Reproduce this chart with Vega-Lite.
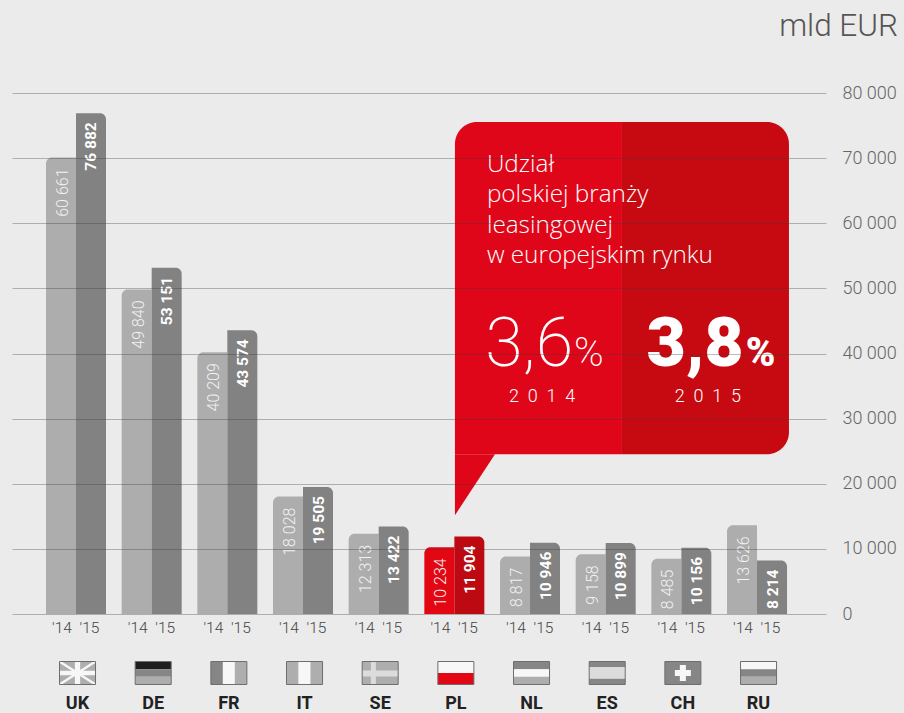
{
"$schema":"https://vega.github.io/schema/vega-lite/v6.json",
"width":814,"height":521,
"autosize":{"type":"none"},
"padding":{"left":12,"top":93,"right":78,"bottom":99},
"background":"#ebebeb",
"view":{"stroke":null},
"config":{"font":"Roboto","axis":{"labelFont":"Roboto"}},
"datasets":{
"bars":[
{"country":"UK","year":"'14","drawn":70100,"label":"60 661"},
{"country":"UK","year":"'15","drawn":76882,"label":"76 882"},
{"country":"DE","year":"'14","drawn":49840,"label":"49 840"},
{"country":"DE","year":"'15","drawn":53151,"label":"53 151"},
{"country":"FR","year":"'14","drawn":40209,"label":"40 209"},
{"country":"FR","year":"'15","drawn":43574,"label":"43 574"},
{"country":"IT","year":"'14","drawn":18028,"label":"18 028"},
{"country":"IT","year":"'15","drawn":19505,"label":"19 505"},
{"country":"SE","year":"'14","drawn":12313,"label":"12 313"},
{"country":"SE","year":"'15","drawn":13422,"label":"13 422"},
{"country":"PL","year":"'14","drawn":10234,"label":"10 234"},
{"country":"PL","year":"'15","drawn":11904,"label":"11 904"},
{"country":"NL","year":"'14","drawn":8817,"label":"8 817"},
{"country":"NL","year":"'15","drawn":10946,"label":"10 946"},
{"country":"ES","year":"'14","drawn":9158,"label":"9 158"},
{"country":"ES","year":"'15","drawn":10899,"label":"10 899"},
{"country":"CH","year":"'14","drawn":8485,"label":"8 485"},
{"country":"CH","year":"'15","drawn":10156,"label":"10 156"},
{"country":"RU","year":"'14","drawn":13626,"label":"13 626"},
{"country":"RU","year":"'15","drawn":8214,"label":"8 214"}
],
"flags":[
{"flag":"UK","tone":"light","x0":-0.218,"x1":0.258,"y0":-7294,"y1":-10825},
{"flag":"DE","tone":"dark","x0":0.782,"x1":1.258,"y0":-7294,"y1":-8471},
{"flag":"DE","tone":"mid","x0":0.782,"x1":1.258,"y0":-8471,"y1":-9648},
{"flag":"DE","tone":"light","x0":0.782,"x1":1.258,"y0":-9648,"y1":-10825},
{"flag":"FR","tone":"mid","x0":1.782,"x1":1.941,"y0":-7294,"y1":-10825},
{"flag":"FR","tone":"white","x0":1.941,"x1":2.099,"y0":-7294,"y1":-10825},
{"flag":"FR","tone":"light","x0":2.099,"x1":2.258,"y0":-7294,"y1":-10825},
{"flag":"IT","tone":"light","x0":2.782,"x1":2.941,"y0":-7294,"y1":-10825},
{"flag":"IT","tone":"white","x0":2.941,"x1":3.099,"y0":-7294,"y1":-10825},
{"flag":"IT","tone":"light","x0":3.099,"x1":3.258,"y0":-7294,"y1":-10825},
{"flag":"SE","tone":"light","x0":3.782,"x1":4.258,"y0":-7294,"y1":-10825},
{"flag":"SE","tone":"pale","x0":3.897,"x1":3.963,"y0":-7294,"y1":-10825},
{"flag":"SE","tone":"pale","x0":3.782,"x1":4.258,"y0":-8676,"y1":-9598},
{"flag":"PL","tone":"white","x0":4.782,"x1":5.258,"y0":-7294,"y1":-9060},
{"flag":"PL","tone":"red","x0":4.782,"x1":5.258,"y0":-9060,"y1":-10825},
{"flag":"NL","tone":"mid","x0":5.782,"x1":6.258,"y0":-7294,"y1":-8471},
{"flag":"NL","tone":"white","x0":5.782,"x1":6.258,"y0":-8471,"y1":-9648},
{"flag":"NL","tone":"light","x0":5.782,"x1":6.258,"y0":-9648,"y1":-10825},
{"flag":"ES","tone":"mid","x0":6.782,"x1":7.258,"y0":-7294,"y1":-8177},
{"flag":"ES","tone":"pale","x0":6.782,"x1":7.258,"y0":-8177,"y1":-9942},
{"flag":"ES","tone":"mid","x0":6.782,"x1":7.258,"y0":-9942,"y1":-10825},
{"flag":"CH","tone":"mid","x0":7.782,"x1":8.258,"y0":-7294,"y1":-10825},
{"flag":"CH","tone":"white","x0":7.98,"x1":8.06,"y0":-7831,"y1":-10289},
{"flag":"CH","tone":"white","x0":7.914,"x1":8.126,"y0":-8599,"y1":-9521},
{"flag":"RU","tone":"white","x0":8.782,"x1":9.258,"y0":-7294,"y1":-8471},
{"flag":"RU","tone":"mid","x0":8.782,"x1":9.258,"y0":-8471,"y1":-9648},
{"flag":"RU","tone":"light","x0":8.782,"x1":9.258,"y0":-9648,"y1":-10825}
],
"frames":[
{"flag":"UK","x0":-0.218,"x1":0.258},{"flag":"DE","x0":0.782,"x1":1.258},{"flag":"FR","x0":1.782,"x1":2.258},{"flag":"IT","x0":2.782,"x1":3.258},{"flag":"SE","x0":3.782,"x1":4.258},{"flag":"NL","x0":5.782,"x1":6.258},{"flag":"ES","x0":6.782,"x1":7.258},{"flag":"CH","x0":7.782,"x1":8.258},{"flag":"RU","x0":8.782,"x1":9.258},{"flag":"PL","x0":4.782,"x1":5.258}
]
},
"resolve":{"scale":{"x":"independent"}},
"layer":[
{
"layer":[
{"data":{"name":"bars"},"transform":[{"filter":"datum.year==\"'14\""}],
 "mark":{"type":"bar","cornerRadiusTopLeft":6},
 "encoding":{
  "x":{"field":"country","type":"nominal","sort":null,
   "scale":{"domain":["UK","DE","FR","IT","SE","PL","NL","ES","CH","RU"],"paddingInner":0.2071,"paddingOuter":0.4822,"align":0.4659},
   "axis":{"title":null,"domain":false,"ticks":false,"labelAngle":0,"labelPadding":80,"labelOffset":1.5,"labelFontSize":18,"labelFontWeight":"bold","labelColor":"#222222","zindex":1}},
  "xOffset":{"field":"year","type":"nominal","scale":{"domain":["'14","'15"],"paddingInner":0,"paddingOuter":0}},
  "y":{"field":"drawn","type":"quantitative","stack":null,
   "scale":{"domain":[0,80000],"nice":false},
   "axis":{"title":null,"orient":"right","values":[0,10000,20000,30000,40000,50000,60000,70000,80000],"domain":false,"ticks":false,"grid":true,"gridColor":"#3c3c3c","gridOpacity":0.35,"gridWidth":1,"labelPadding":16,"labelFontSize":18,"labelFontWeight":300,"labelColor":"#666666","labelExpr":"replace(format(datum.value,','),',',' ')","zindex":1}},
  "color":{"condition":{"test":"datum.country=='PL'","value":"#e30613"},"value":"#adadad"}
 }},
{"data":{"name":"bars"},"transform":[{"filter":"datum.year==\"'15\""}],
 "mark":{"type":"bar","cornerRadiusTopRight":6},
 "encoding":{
  "x":{"field":"country","type":"nominal","sort":null},
  "xOffset":{"field":"year","type":"nominal"},
  "y":{"field":"drawn","type":"quantitative","stack":null},
  "color":{"condition":{"test":"datum.country=='PL'","value":"#bd0a12"},"value":"#828282"}
 }},
{"data":{"name":"bars"},"transform":[{"filter":"datum.year==\"'14\""}],
 "mark":{"type":"text","angle":270,"align":"right","baseline":"middle","dx":-11,"dy":2,"fontSize":16,"fontWeight":300,"color":"#f2f2f2"},
 "encoding":{
  "x":{"field":"country","type":"nominal","sort":null},
  "xOffset":{"field":"year","type":"nominal"},
  "y":{"field":"drawn","type":"quantitative","stack":null},
  "text":{"field":"label","type":"nominal"}
 }},
{"data":{"name":"bars"},"transform":[{"filter":"datum.year==\"'15\""}],
 "mark":{"type":"text","angle":270,"align":"right","baseline":"middle","dx":-9,"dy":0.5,"fontSize":15.5,"fontWeight":"bold","color":"#ffffff"},
 "encoding":{
  "x":{"field":"country","type":"nominal","sort":null},
  "xOffset":{"field":"year","type":"nominal"},
  "y":{"field":"drawn","type":"quantitative","stack":null},
  "text":{"field":"label","type":"nominal"}
 }},
{"data":{"name":"bars"},"transform":[{"filter":"datum.year==\"'14\""}],
 "mark":{"type":"text","baseline":"middle","dx":1,"fontSize":15.5,"fontWeight":300,"color":"#444444"},
 "encoding":{
  "x":{"field":"country","type":"nominal","sort":null},
  "xOffset":{"field":"year","type":"nominal"},
  "y":{"datum":-2197},
  "text":{"field":"year","type":"nominal"}
 }},
{"data":{"name":"bars"},"transform":[{"filter":"datum.year==\"'15\""}],
 "mark":{"type":"text","baseline":"middle","dx":-1.5,"fontSize":15.5,"fontWeight":300,"color":"#444444"},
 "encoding":{
  "x":{"field":"country","type":"nominal","sort":null},
  "xOffset":{"field":"year","type":"nominal"},
  "y":{"datum":-2197},
  "text":{"field":"year","type":"nominal"}
 }}
]},
{
"layer":[
{"data":{"values":[{"x":5.008,"top":24530,"tip":15160},{"x":5.537,"top":24530,"tip":24530}]},
 "mark":{"type":"area","color":"#e0061a","interpolate":"linear"},
 "encoding":{
  "x":{"field":"x","type":"quantitative","scale":{"domain":[-0.8458,9.9115],"nice":false,"zero":false},"axis":null},
  "y":{"field":"top","type":"quantitative","stack":null},
  "y2":{"field":"tip"}
 }},
{"data":{"values":[{}]},
 "mark":{"type":"rect","color":"#e0061a","cornerRadiusTopLeft":22},
 "encoding":{"x":{"datum":5.008},"x2":{"datum":7.215},"y":{"datum":75530},"y2":{"datum":24530}}},
{"data":{"values":[{}]},
 "mark":{"type":"rect","color":"#c70a11","cornerRadiusTopRight":22,"cornerRadiusBottomRight":22},
 "encoding":{"x":{"datum":7.215},"x2":{"datum":9.422},"y":{"datum":75530},"y2":{"datum":24530}}},
{"data":{"values":[{}]},
 "mark":{"type":"text","align":"right","baseline":"middle","fontSize":31.5,"fontWeight":300,"color":"#555555","text":"mld EUR"},
 "encoding":{"x":{"datum":10.863},"y":{"datum":90100}}},
{"data":{"values":[{}]},
 "mark":{"type":"text","font":"Open Sans","align":"left","baseline":"middle","fontSize":24.3,"fontWeight":300,"color":"#ffffff","lineHeight":30.5,"text":["Udział","polskiej branży","leasingowej","w europejskim rynku"]},
 "encoding":{"x":{"datum":5.43},"y":{"datum":69000}}},
{"data":{"values":[{}]},
 "mark":{"type":"text","align":"left","baseline":"alphabetic","fontSize":68,"fontWeight":200,"color":"#ffffff","text":"3,6"},
 "encoding":{"x":{"datum":5.41},"y":{"datum":38130}}},
{"data":{"values":[{}]},
 "mark":{"type":"text","align":"left","baseline":"alphabetic","fontSize":40,"fontWeight":200,"color":"#ffffff","text":"%"},
 "encoding":{"x":{"datum":6.58},"y":{"datum":38130}}},
{"data":{"values":[{}]},
 "mark":{"type":"text","align":"left","baseline":"alphabetic","fontSize":68,"fontWeight":900,"color":"#ffffff","text":"3,8"},
 "encoding":{"x":{"datum":7.54},"y":{"datum":38130}}},
{"data":{"values":[{}]},
 "mark":{"type":"text","align":"left","baseline":"alphabetic","fontSize":40,"fontWeight":900,"color":"#ffffff","text":"%"},
 "encoding":{"x":{"datum":8.85},"y":{"datum":38130}}},
{"data":{"values":[{}]},
 "mark":{"type":"text","align":"center","baseline":"middle","fontSize":18,"fontWeight":300,"color":"#ffffff","text":"2\u00a0 0\u00a0 1\u00a0 4"},
 "encoding":{"x":{"datum":6.16},"y":{"datum":33300}}},
{"data":{"values":[{}]},
 "mark":{"type":"text","align":"center","baseline":"middle","fontSize":18,"fontWeight":300,"color":"#ffffff","text":"2\u00a0 0\u00a0 1\u00a0 5"},
 "encoding":{"x":{"datum":8.35},"y":{"datum":33300}}},
{"data":{"name":"flags"},
 "mark":{"type":"rect"},
 "encoding":{
  "x":{"field":"x0","type":"quantitative"},"x2":{"field":"x1"},
  "y":{"field":"y0","type":"quantitative"},"y2":{"field":"y1"},
  "color":{"field":"tone","type":"nominal","legend":null,
   "scale":{"domain":["dark","mid","light","white","pale","red"],"range":["#1e1e1e","#868686","#aeaeae","#f7f7f7","#dcdcdc","#e30613"]}}
 }},
{"data":{"values":[
 {"x0":-0.218,"x1":0.258,"y0":-7294,"y1":-10825},
 {"x0":-0.218,"x1":0.258,"y0":-10825,"y1":-7294}]},
 "mark":{"type":"rule","color":"#f7f7f7","strokeWidth":2.5},
 "encoding":{"x":{"field":"x0","type":"quantitative"},"x2":{"field":"x1"},"y":{"field":"y0","type":"quantitative"},"y2":{"field":"y1"}}},
{"data":{"values":[
 {"x0":-0.015,"x1":0.055,"y0":-7294,"y1":-10825},
 {"x0":-0.218,"x1":0.258,"y0":-8700,"y1":-9420}]},
 "mark":{"type":"rect","color":"#f7f7f7"},
 "encoding":{"x":{"field":"x0","type":"quantitative"},"x2":{"field":"x1"},"y":{"field":"y0","type":"quantitative"},"y2":{"field":"y1"}}},
{"data":{"name":"frames"},
 "mark":{"type":"rect","fillOpacity":0,"stroke":"#6e6e6e","strokeWidth":1},
 "encoding":{"x":{"field":"x0","type":"quantitative"},"x2":{"field":"x1"},"y":{"datum":-7294},"y2":{"datum":-10825}}}
]}
]
}
